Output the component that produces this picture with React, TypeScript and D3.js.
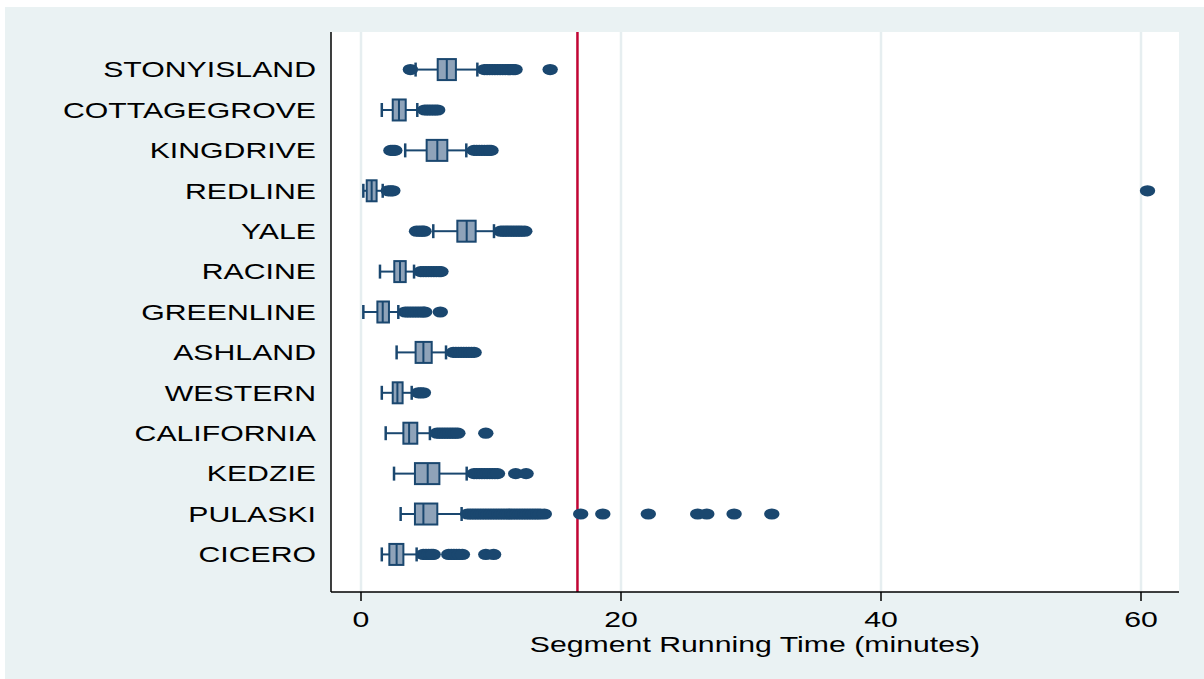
import React from "react";
import * as d3 from "d3";

// Route segments, top to bottom
const segments = [
  "STONYISLAND", "COTTAGEGROVE", "KINGDRIVE", "REDLINE", "YALE", "RACINE",
  "GREENLINE", "ASHLAND", "WESTERN", "CALIFORNIA", "KEDZIE", "PULASKI", "CICERO",
];

// Box-plot summaries per segment (minutes)
const whiskerLow = [4.2, 1.6, 3.4, 0.18, 5.56, 1.46, 0.18, 2.74, 1.6, 1.9, 2.54, 3.05, 1.6];
const quartile1 = [5.9, 2.44, 5.05, 0.44, 7.41, 2.56, 1.26, 4.2, 2.44, 3.26, 4.15, 4.15, 2.18];
const medians = [6.6, 2.92, 5.87, 0.82, 8.13, 3.0, 1.67, 4.8, 2.8, 3.7, 5.13, 4.8, 2.74];
const quartile3 = [7.3, 3.44, 6.64, 1.2, 8.82, 3.44, 2.15, 5.44, 3.2, 4.33, 6.03, 5.87, 3.26];
const whiskerHigh = [8.95, 4.33, 8.1, 1.67, 10.23, 4.08, 2.87, 6.54, 3.9, 5.3, 8.13, 7.74, 4.28];

// Outside values per segment (minutes)
const outliers: number[][] = [
  [3.8, 9.5, 9.7, 9.9, 10.1, 10.3, 10.5, 10.7, 10.9, 11.1, 11.3, 11.5, 11.7, 11.85, 14.55],
  [4.9, 5.1, 5.3, 5.5, 5.7, 5.9],
  [2.3, 2.45, 2.6, 8.7, 8.9, 9.1, 9.3, 9.5, 9.7, 9.85, 10.0],
  [2.1, 2.3, 2.45, 60.5],
  [4.27, 4.5, 4.7, 4.85, 10.75, 10.95, 11.15, 11.35, 11.55, 11.75, 11.95, 12.15, 12.35, 12.6],
  [4.6, 4.8, 5.0, 5.2, 5.4, 5.6, 5.8, 6.0, 6.15],
  [3.4, 3.6, 3.8, 4.0, 4.2, 4.4, 4.6, 4.8, 4.9, 6.1],
  [7.1, 7.3, 7.5, 7.7, 7.9, 8.1, 8.3, 8.5, 8.7],
  [4.42, 4.6, 4.8],
  [5.85, 6.05, 6.25, 6.45, 6.65, 6.85, 7.05, 7.25, 7.45, 9.6],
  [8.7, 8.9, 9.1, 9.3, 9.5, 9.7, 9.9, 10.1, 10.3, 10.5, 11.9, 12.7],
  [8.2, 8.4, 8.6, 8.8, 9.0, 9.2, 9.4, 9.6, 9.8, 10.0, 10.2, 10.4, 10.6, 10.8, 11.0,
    11.2, 11.4, 11.6, 11.8, 12.0, 12.2, 12.4, 12.6, 12.8, 13.0, 13.2, 13.4, 13.6, 13.8, 14.1,
    16.9, 18.6, 22.1, 25.9, 26.6, 28.7, 31.6],
  [4.8, 5.0, 5.2, 5.4, 5.55, 6.75, 6.95, 7.15, 7.35, 7.55, 7.8, 9.6, 10.2],
];

// Reference line (minutes) and axis ticks
const referenceLine = 16.65;
const xTicks = [0, 20, 40, 60];
const xTitle = "Segment Running Time (minutes)";

const W = 1204;
const H = 679;
const plot = { left: 331, right: 1179, top: 32, bottom: 592 };

const NAVY = "#1a476f";
const BOX_FILL = "#8fa3b9";
const RED = "#c10534";
const BG = "#eaf2f3";
const GRID = "#e6eef0";
const FONT = "'Liberation Sans', Arial, Helvetica, sans-serif";
const FS = 22;
const SX = 1.375; // horizontal text stretch

export default function App() {
  const x = d3
    .scaleLinear()
    .domain([(plot.left - 361) / 13, (plot.right - 361) / 13])
    .range([plot.left, plot.right]);
  const y = d3.scalePoint<string>().domain(segments).range([plot.top, plot.bottom]).padding(0.93);

  const boxH = 21;
  const capH = 14;

  return (
    <svg
      width={W}
      height={H}
      style={{ position: "absolute", left: 0, top: 0, background: "#ffffff" }}
    >
      <rect x={5} y={7} width={W - 5} height={H - 7} fill={BG} />
      <rect
        x={plot.left}
        y={plot.top}
        width={plot.right - plot.left}
        height={plot.bottom - plot.top}
        fill="#ffffff"
      />
      {xTicks.map((t) => (
        <line key={`g${t}`} x1={x(t)} x2={x(t)} y1={plot.top} y2={plot.bottom} stroke={GRID} strokeWidth={2.5} />
      ))}
      <line
        x1={x(referenceLine)}
        x2={x(referenceLine)}
        y1={plot.top}
        y2={plot.bottom}
        stroke={RED}
        strokeWidth={2.5}
      />
      {segments.map((s, i) => {
        const cy = y(s)!;
        return (
          <g key={s}>
            <line x1={x(whiskerLow[i])} x2={x(quartile1[i])} y1={cy} y2={cy} stroke={NAVY} strokeWidth={2} />
            <line x1={x(quartile3[i])} x2={x(whiskerHigh[i])} y1={cy} y2={cy} stroke={NAVY} strokeWidth={2} />
            <line
              x1={x(whiskerLow[i])}
              x2={x(whiskerLow[i])}
              y1={cy - capH / 2}
              y2={cy + capH / 2}
              stroke={NAVY}
              strokeWidth={2.5}
            />
            <line
              x1={x(whiskerHigh[i])}
              x2={x(whiskerHigh[i])}
              y1={cy - capH / 2}
              y2={cy + capH / 2}
              stroke={NAVY}
              strokeWidth={2.5}
            />
            <rect
              x={x(quartile1[i])}
              y={cy - boxH / 2}
              width={x(quartile3[i]) - x(quartile1[i])}
              height={boxH}
              fill={BOX_FILL}
              stroke={NAVY}
              strokeWidth={2}
            />
            <line
              x1={x(medians[i])}
              x2={x(medians[i])}
              y1={cy - boxH / 2}
              y2={cy + boxH / 2}
              stroke={NAVY}
              strokeWidth={2}
            />
            {outliers[i].map((v, k) => (
              <ellipse key={k} cx={x(v)} cy={cy} rx={7.7} ry={5.6} fill={NAVY} />
            ))}
            <text
              transform={`translate(316, ${cy + FS * 0.358}) scale(${SX}, 1)`}
              textAnchor="end"
              fontFamily={FONT}
              fontSize={FS}
              fill="#000000"
            >
              {s}
            </text>
          </g>
        );
      })}
      <line x1={plot.left} x2={plot.left} y1={plot.top} y2={plot.bottom} stroke="#000000" strokeWidth={1.5} />
      <line x1={plot.left} x2={plot.right} y1={plot.bottom} y2={plot.bottom} stroke="#000000" strokeWidth={1.5} />
      {xTicks.map((t) => (
        <g key={`t${t}`}>
          <line x1={x(t)} x2={x(t)} y1={plot.bottom} y2={plot.bottom + 9} stroke="#000000" strokeWidth={1.5} />
          <text
            transform={`translate(${x(t)}, 627) scale(${SX}, 1)`}
            textAnchor="middle"
            fontFamily={FONT}
            fontSize={FS}
            fill="#000000"
          >
            {t}
          </text>
        </g>
      ))}
      <text
        transform={`translate(${(plot.left + plot.right) / 2}, 652) scale(${SX}, 1)`}
        textAnchor="middle"
        fontFamily={FONT}
        fontSize={FS}
        fill="#000000"
      >
        {xTitle}
      </text>
    </svg>
  );
}
